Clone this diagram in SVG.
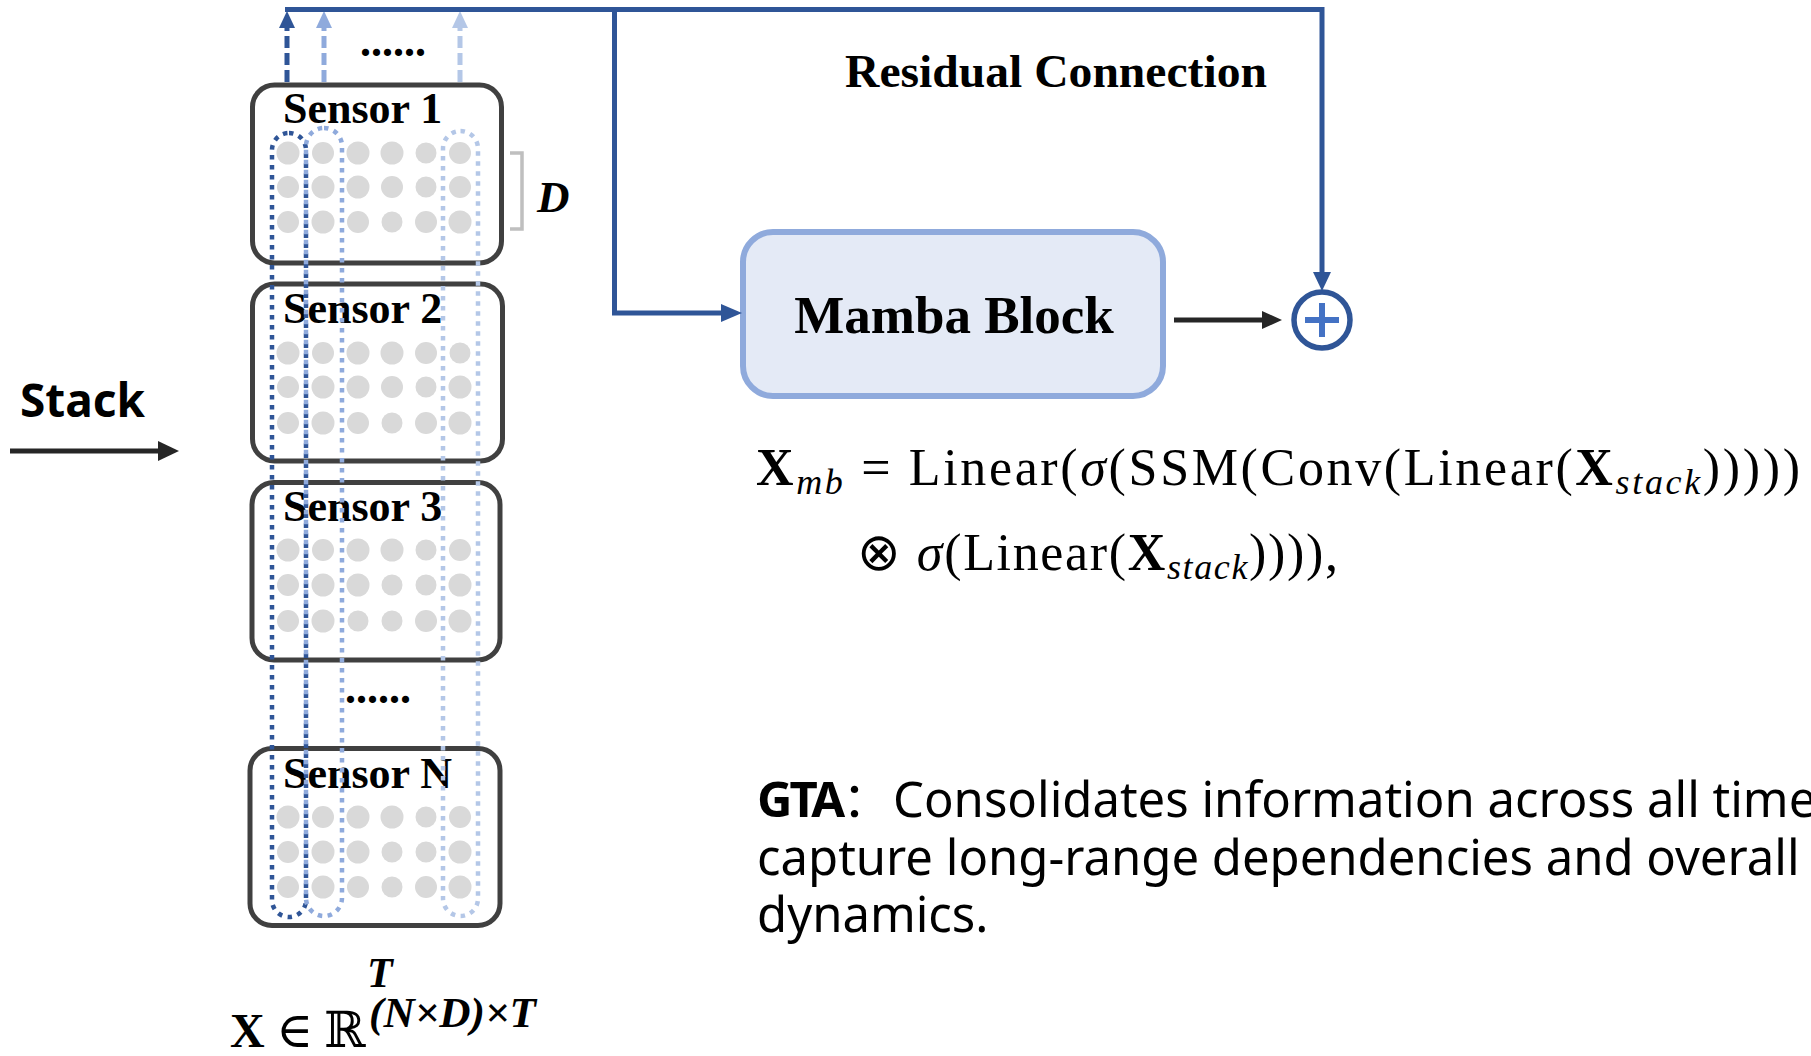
<svg xmlns="http://www.w3.org/2000/svg" width="1811" height="1056" viewBox="0 0 1811 1056">
<style>
.serif{font-family:"Liberation Serif","Times New Roman",serif;}
.sb{font-family:"Liberation Serif","Times New Roman",serif;font-weight:bold;}
.sbi{font-family:"Liberation Serif","Times New Roman",serif;font-weight:bold;font-style:italic;}
.sans{font-family:"Noto Sans","Noto Sans CJK SC",sans-serif;}
.box{fill:#ffffff;stroke:#404040;stroke-width:5;}
.dot{fill:#d9d9d9;}
.lbl{font-size:44px;fill:#000;}
.blue{stroke:#2f5597;stroke-width:5;fill:none;}
.dk{stroke:#262626;stroke-width:5;fill:none;}
.loopd{fill:none;stroke:#2f5597;stroke-width:4.5;stroke-dasharray:4.5 5.5;}
.loopm{fill:none;stroke:#8faadc;stroke-width:4.5;stroke-dasharray:4.5 5.5;}
.loopl{fill:none;stroke:#b4c7e7;stroke-width:4.5;stroke-dasharray:4.5 5.5;}
</style>
<rect width="1811" height="1056" fill="#ffffff"/>

<!-- sensor nodes -->
<g id="sensor1">
<rect class="box" x="252.5" y="85" width="249" height="178" rx="22"/>
<g class="dot">
<circle cx="288" cy="153" r="11.5"/><circle cx="323" cy="153" r="11"/><circle cx="358" cy="153" r="11.5"/><circle cx="392" cy="153" r="11.5"/><circle cx="426" cy="153" r="10.5"/><circle cx="460" cy="153" r="11"/>
<circle cx="288" cy="187" r="11"/><circle cx="323" cy="187" r="11.5"/><circle cx="358" cy="187" r="11.5"/><circle cx="392" cy="187" r="11"/><circle cx="426" cy="187" r="10.5"/><circle cx="460" cy="187" r="11"/>
<circle cx="288" cy="222" r="11"/><circle cx="323" cy="222" r="11.5"/><circle cx="358" cy="222" r="11"/><circle cx="392" cy="222" r="10.5"/><circle cx="426" cy="222" r="11"/><circle cx="460" cy="222" r="11.5"/>
</g>
<text class="sb lbl" x="283" y="123">Sensor 1</text>
</g>

<g id="sensor2">
<rect class="box" x="252.5" y="284" width="250" height="177" rx="22"/>
<g class="dot">
<circle cx="288" cy="353" r="11.5"/><circle cx="323" cy="353" r="11"/><circle cx="358" cy="353" r="11.5"/><circle cx="392" cy="353" r="11.5"/><circle cx="426" cy="353" r="11"/><circle cx="460" cy="353" r="10.5"/>
<circle cx="288" cy="387" r="11"/><circle cx="323" cy="387" r="11.5"/><circle cx="358" cy="387" r="11.5"/><circle cx="392" cy="387" r="11"/><circle cx="426" cy="387" r="10.5"/><circle cx="460" cy="387" r="11.5"/>
<circle cx="288" cy="423" r="11"/><circle cx="323" cy="423" r="11.5"/><circle cx="358" cy="423" r="11"/><circle cx="392" cy="423" r="10.5"/><circle cx="426" cy="423" r="11"/><circle cx="460" cy="423" r="11.5"/>
</g>
<text class="sb lbl" x="283" y="323">Sensor 2</text>
</g>

<g id="sensor3">
<rect class="box" x="252" y="482.5" width="248" height="177.5" rx="22"/>
<g class="dot">
<circle cx="288" cy="550" r="11.5"/><circle cx="323" cy="550" r="11"/><circle cx="358" cy="550" r="11.5"/><circle cx="392" cy="550" r="11.5"/><circle cx="426" cy="550" r="10.5"/><circle cx="460" cy="550" r="11"/>
<circle cx="288" cy="585" r="11"/><circle cx="323" cy="585" r="11.5"/><circle cx="358" cy="585" r="11.5"/><circle cx="392" cy="585" r="10.5"/><circle cx="426" cy="585" r="10.5"/><circle cx="460" cy="585" r="11.5"/>
<circle cx="288" cy="621" r="11"/><circle cx="323" cy="621" r="11.5"/><circle cx="358" cy="621" r="10.5"/><circle cx="392" cy="621" r="10.5"/><circle cx="426" cy="621" r="11"/><circle cx="460" cy="621" r="11.5"/>
</g>
<text class="sb lbl" x="283" y="521">Sensor 3</text>
</g>

<text class="sb lbl" x="345" y="703">......</text>

<g id="sensorN">
<rect class="box" x="250" y="748.5" width="250" height="177" rx="22"/>
<g class="dot">
<circle cx="288" cy="817" r="11.5"/><circle cx="323" cy="817" r="11"/><circle cx="358" cy="817" r="11.5"/><circle cx="392" cy="817" r="11.5"/><circle cx="426" cy="817" r="10.5"/><circle cx="460" cy="817" r="11"/>
<circle cx="288" cy="852" r="11"/><circle cx="323" cy="852" r="11.5"/><circle cx="358" cy="852" r="11.5"/><circle cx="392" cy="852" r="10.5"/><circle cx="426" cy="852" r="10.5"/><circle cx="460" cy="852" r="11.5"/>
<circle cx="288" cy="887" r="11"/><circle cx="323" cy="887" r="11.5"/><circle cx="358" cy="887" r="11"/><circle cx="392" cy="887" r="10.5"/><circle cx="426" cy="887" r="11"/><circle cx="460" cy="887" r="11.5"/>
</g>
<text class="sb lbl" x="283" y="788">Sensor N</text>
</g>

<!-- dotted time-step groupings -->
<g id="timeLoops">
<rect class="loopd" x="272" y="133" width="34" height="784" rx="17"/>
<rect class="loopm" x="306" y="128" width="36" height="788" rx="18"/>
<rect class="loopl" x="443" y="131" width="35" height="785" rx="17.5"/>
</g>

<!-- D bracket -->
<g id="dimD">
<path d="M510,153 H522 V229 H510" fill="none" stroke="#bfbfbf" stroke-width="3.5"/>
<text class="sbi" x="537" y="212" font-size="45">D</text>
</g>

<text class="sb lbl" x="360" y="56">......</text>

<!-- Mamba block -->
<g id="mamba">
<rect x="743" y="232" width="420" height="164" rx="30" fill="#e4eaf6" stroke="#8faadc" stroke-width="6"/>
<text class="sb" x="954" y="333" font-size="53" text-anchor="middle">Mamba Block</text>
</g>

<!-- add node -->
<g id="add">
<circle cx="1322" cy="320" r="28" fill="#ffffff" stroke="#2f5597" stroke-width="5.5"/>
<path d="M1305,320 H1339 M1322,303 V337" stroke="#4472c4" stroke-width="6" fill="none"/>
</g>

<!-- connectors -->
<g id="connectors">
<path class="dk" d="M10,451 H162"/>
<path d="M158,441 L179,451 L158,461 z" fill="#262626"/>
<path d="M287,82 V26" fill="none" stroke="#2f5597" stroke-width="5" stroke-dasharray="12 5"/>
<path d="M279,28 L287,11 L295,28 z" fill="#2f5597"/>
<path d="M324,82 V26" fill="none" stroke="#8faadc" stroke-width="5" stroke-dasharray="12 5"/>
<path d="M316,28 L324,11 L332,28 z" fill="#8faadc"/>
<path d="M460,82 V26" fill="none" stroke="#b4c7e7" stroke-width="5" stroke-dasharray="12 5"/>
<path d="M452,28 L460,11 L468,28 z" fill="#b4c7e7"/>
<path class="blue" d="M285,9.5 H1322 V276"/>
<path d="M1313,272 L1322,291 L1331,272 z" fill="#2f5597"/>
<path class="blue" d="M614.5,9.5 V313 H724"/>
<path d="M721,304 L742,313 L721,322 z" fill="#2f5597"/>
<path class="dk" d="M1174,320 H1266"/>
<path d="M1262,311 L1282,320 L1262,329 z" fill="#262626"/>
</g>

<text class="sb" x="845" y="87" font-size="47" textLength="422" lengthAdjust="spacingAndGlyphs">Residual Connection</text>

<text class="sans" x="20" y="417" font-size="46" font-weight="bold" textLength="125" lengthAdjust="spacingAndGlyphs">Stack</text>

<!-- T and X in R -->
<text class="sbi" x="367" y="987" font-size="42">T</text>
<text x="230" y="1047" font-family="DejaVu Serif, serif"><tspan font-family="Liberation Serif, serif" font-weight="bold" font-size="48">X</tspan><tspan x="276" font-size="50">∈</tspan><tspan x="324" font-size="50">ℝ</tspan></text>
<text class="sbi" x="369" y="1027" font-size="42" textLength="167" lengthAdjust="spacingAndGlyphs">(N×D)×T</text>

<!-- formula -->
<g id="formula" class="serif" fill="#000">
<text x="756" y="485" font-size="52" textLength="1044" lengthAdjust="spacing"><tspan font-weight="bold">X</tspan><tspan font-style="italic" font-size="36" dy="9">mb</tspan><tspan dy="-9"> = Linear(</tspan><tspan font-style="italic">σ</tspan><tspan>(SSM(Conv(Linear(</tspan><tspan font-weight="bold">X</tspan><tspan font-style="italic" font-size="36" dy="9">stack</tspan><tspan dy="-9">)))))</tspan></text>
<text x="857" y="570" font-size="52" textLength="481" lengthAdjust="spacing"><tspan font-family="DejaVu Sans, sans-serif" font-weight="normal" font-size="52">⊗</tspan><tspan> </tspan><tspan font-style="italic">σ</tspan><tspan>(Linear(</tspan><tspan font-weight="bold">X</tspan><tspan font-style="italic" font-size="36" dy="9">stack</tspan><tspan dy="-9">)))),</tspan></text>
</g>

<!-- GTA description -->
<g id="gta">
<text class="sans" font-size="49" fill="#000"><tspan x="757" y="817" font-weight="bold" letter-spacing="-3">GTA</tspan><tspan>：</tspan><tspan x="893">Consolidates information across all time</tspan><tspan x="757" y="875">capture long-range dependencies and overall</tspan><tspan x="757" y="932">dynamics.</tspan></text>
</g>
</svg>
